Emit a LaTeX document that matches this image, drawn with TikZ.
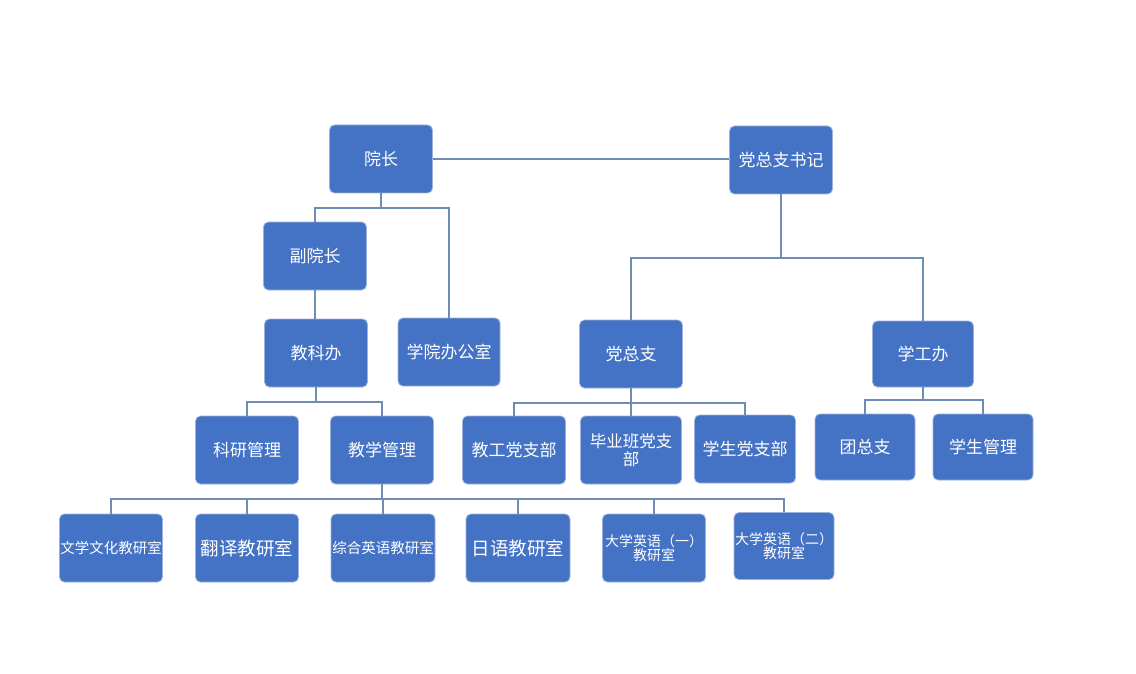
\documentclass[tikz,border=0pt]{standalone}
\usepackage{fontspec}
\newfontfamily\cjk{Noto Sans CJK SC}
\definecolor{boxblue}{HTML}{4472C4}
\definecolor{boxedge}{HTML}{9DB3DD}
\definecolor{linec}{HTML}{6F8CB3}
\begin{document}
\begin{tikzpicture}[x=1pt,y=-1pt,
  box/.style={draw=boxedge, line width=0.8pt, fill=boxblue, rounded corners=5pt,
    minimum width=103pt, minimum height=68pt, inner sep=0pt, text=white,
    font=\cjk\fontsize{17}{18}\selectfont, align=center},
  conn/.style={draw=linec, line width=1.2pt}]
\useasboundingbox[fill=white] (0,0) rectangle (1136,674);
% top level
\node[box] (yz) at (381,159) {院长};
\node[box] (dzsj) at (781,160) {党总支书记};
% second
\node[box] (fyz) at (315,256) {副院长};
\node[box] (jkb) at (316,353) {教科办};
\node[box, minimum width=102pt] (xybgs) at (449,352) {学院办公室};
\node[box] (dzz) at (631,354) {党总支};
\node[box, minimum width=101pt, minimum height=66pt] (xgb) at (923,354) {学工办};
% third
\node[box] (kygl) at (247,450) {科研管理};
\node[box] (jxgl) at (382,450) {教学管理};
\node[box] (jgdzb) at (514,450) {教工党支部};
\node[box, minimum width=101pt, font=\cjk\fontsize{16.5}{18}\selectfont] (byb) at (631,450) {毕业班党支\\部};
\node[box, minimum width=101pt] (xsdzb) at (745,449) {学生党支部};
\node[box, minimum width=100pt, minimum height=66pt] (tzz) at (865,447) {团总支};
\node[box, minimum width=100pt, minimum height=66pt] (xsgl) at (983,447) {学生管理};
% bottom
\node[box, font=\cjk\fontsize{14.5}{15}\selectfont] (wxwh) at (111,548) {文学文化教研室};
\node[box, font=\cjk\fontsize{18.5}{19}\selectfont] (fy) at (247,548) {翻译教研室};
\node[box, minimum width=104pt, font=\cjk\fontsize{14.5}{15}\selectfont] (zhyy) at (383,548) {综合英语教研室};
\node[box, minimum width=104pt, font=\cjk\fontsize{18.5}{19}\selectfont] (ry) at (518,548) {日语教研室};
\node[box, font=\cjk\fontsize{14}{13}\selectfont] (dx1) at (654,548) {大学英语（一）\\教研室};
\node[box, minimum width=100pt, minimum height=67pt, font=\cjk\fontsize{14}{13}\selectfont] (dx2) at (784,546) {大学英语（二）\\教研室};
% connectors
\draw[conn] (yz.east) -- (dzsj.west |- yz.east);
\coordinate (j1) at (381,208);
\draw[conn] (yz.south) -- (j1);
\draw[conn] (fyz.north) |- (j1) -| (xybgs.north);
\draw[conn] (fyz.south) -- (fyz.south |- jkb.north);
\coordinate (j2) at (316,402);
\draw[conn] (jkb.south) -- (j2);
\draw[conn] (kygl.north) |- (j2) -| (jxgl.north);
\coordinate (j3) at (382,499);
\draw[conn] (jxgl.south) -- (j3);
\draw[conn] (wxwh.north) |- (j3) -| (dx2.north);
\draw[conn] (fy.north) -- (fy.north |- j3);
\draw[conn] (zhyy.north) -- (zhyy.north |- j3);
\draw[conn] (ry.north) -- (ry.north |- j3);
\draw[conn] (dx1.north) -- (dx1.north |- j3);
\coordinate (j4) at (781,258);
\draw[conn] (dzsj.south) -- (j4);
\draw[conn] (dzz.north) |- (j4) -| (xgb.north);
\coordinate (j5) at (631,403);
\draw[conn] (dzz.south) -- (byb.north);
\draw[conn] (jgdzb.north) |- (j5) -| (xsdzb.north);
\coordinate (j6) at (923,400);
\draw[conn] (xgb.south) -- (j6);
\draw[conn] (tzz.north) |- (j6) -| (xsgl.north);
\end{tikzpicture}
\end{document}
